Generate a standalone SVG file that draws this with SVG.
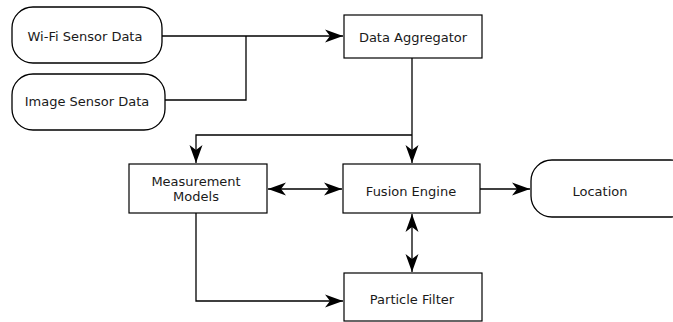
<svg xmlns="http://www.w3.org/2000/svg" width="673" height="322" viewBox="0 0 673 322">
  <style>
    .box { fill: #ffffff; stroke: #000000; stroke-width: 1.2; }
    .term { fill: #ffffff; stroke: #000000; stroke-width: 1.3; }
    .lbl { font-family: "DejaVu Sans", sans-serif; font-size: 13px; fill: #1a1a1a; text-anchor: middle; }
    .wire { fill: none; stroke: #000000; stroke-width: 1.3; }
  </style>
  <defs>
    <marker id="head" viewBox="0 0 20 14" refX="19" refY="7" markerWidth="20" markerHeight="14" markerUnits="userSpaceOnUse" orient="auto-start-reverse">
      <path d="M19,7 L1,0.5 L6,7 L1,13.5 Z" fill="#000000"/>
    </marker>
  </defs>

  <rect width="673" height="322" fill="#ffffff"/>

  <!-- connectors -->
  <g id="connectors">
    <path class="wire" d="M162,36 H343" marker-end="url(#head)"/>
    <path class="wire" d="M165,100 H246 V36"/>
    <path class="wire" d="M412,58 V163" marker-end="url(#head)"/>
    <path class="wire" d="M412,135 H196 V163" marker-end="url(#head)"/>
    <path class="wire" d="M268,189 H342" marker-start="url(#head)" marker-end="url(#head)"/>
    <path class="wire" d="M412,214 V272" marker-start="url(#head)" marker-end="url(#head)"/>
    <path class="wire" d="M480,189 H530" marker-end="url(#head)"/>
    <path class="wire" d="M196,213 V301 H343" marker-end="url(#head)"/>
  </g>

  <!-- nodes -->
  <g id="wifi">
    <rect class="term" x="12" y="7" width="150" height="56" rx="21" ry="21"/>
    <text class="lbl" x="85" y="41">Wi-Fi Sensor Data</text>
  </g>
  <g id="image">
    <rect class="term" x="12" y="74" width="153" height="56" rx="21" ry="21"/>
    <text class="lbl" x="87" y="106">Image Sensor Data</text>
  </g>
  <g id="aggregator">
    <rect class="box" x="344" y="15" width="138" height="43"/>
    <text class="lbl" x="413" y="42">Data Aggregator</text>
  </g>
  <g id="measurement">
    <rect class="box" x="129" y="164" width="138" height="49"/>
    <text class="lbl" x="196" y="186">Measurement</text>
    <text class="lbl" x="196" y="201">Models</text>
  </g>
  <g id="fusion">
    <rect class="box" x="343" y="164" width="137" height="49"/>
    <text class="lbl" x="411" y="196">Fusion Engine</text>
  </g>
  <g id="location">
    <rect class="term" x="531" y="160" width="160" height="57" rx="21" ry="21"/>
    <text class="lbl" x="600" y="196">Location</text>
  </g>
  <g id="particle">
    <rect class="box" x="344" y="273" width="138" height="48"/>
    <text class="lbl" x="412" y="304">Particle Filter</text>
  </g>
</svg>
